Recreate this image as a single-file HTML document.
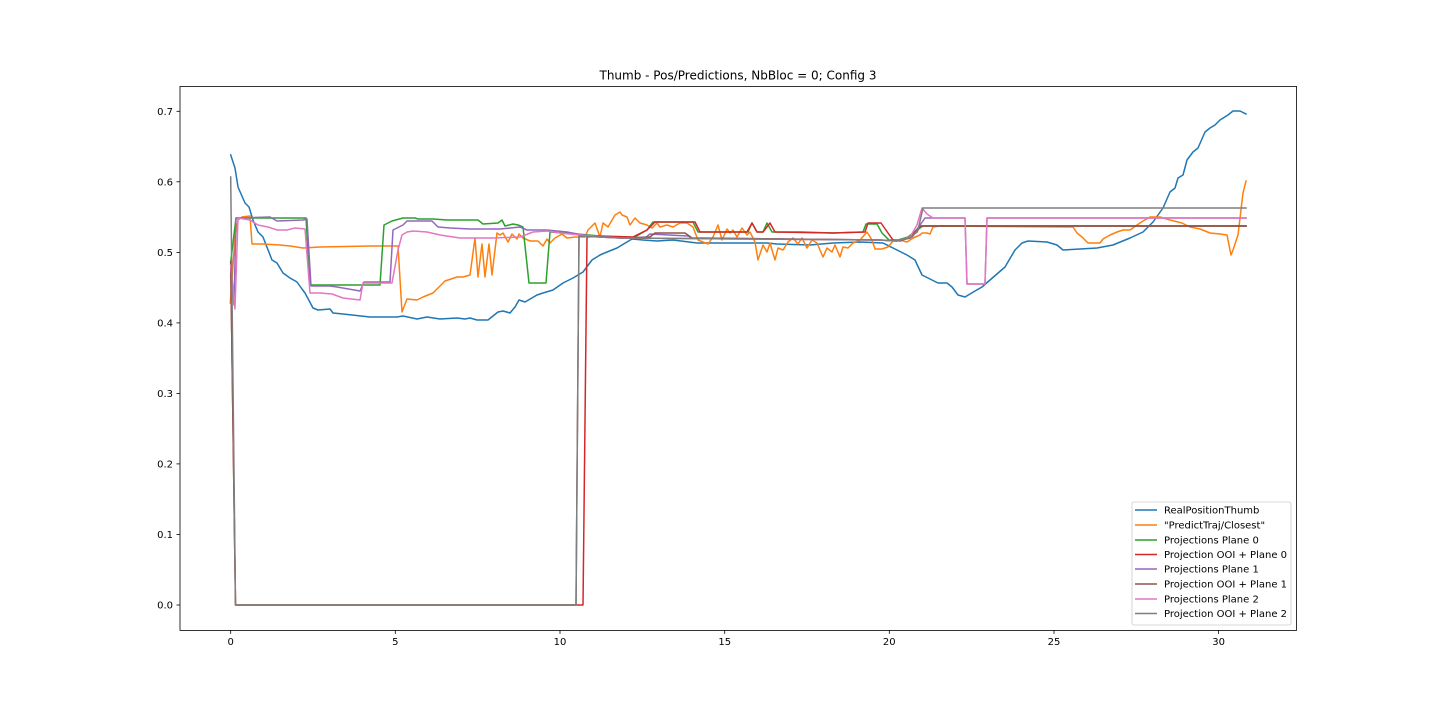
<!DOCTYPE html>
<html>
<head>
<meta charset="utf-8">
<style>
html,body{margin:0;padding:0;background:#fff;}
svg{display:block;}
text{font-family:"DejaVu Sans","Liberation Sans",sans-serif;fill:#000;}
</style>
</head>
<body>
<svg width="1440" height="720" viewBox="0 0 1440 720" xmlns="http://www.w3.org/2000/svg">
<rect x="0" y="0" width="1440" height="720" fill="#fff"/>
<defs>
<clipPath id="ax"><rect x="180" y="86.4" width="1116.5" height="544"/></clipPath>
</defs>
<text x="738" y="79.5" font-size="12" text-anchor="middle">Thumb - Pos/Predictions, NbBloc = 0; Config 3</text>

<g clip-path="url(#ax)" fill="none" stroke-width="1.5" stroke-linejoin="round" stroke-linecap="square">
<polyline stroke="#1f77b4" points="230.7,155 235,168 238,187 245,203 249,207 253,220 258,232 263,237 272,260 277,263 283,273 290,278 297,282 302,289 305,293 313,308 318,310 330,309 333,313 343,314 370,317 397,317 403,316 417,319 427,317 440,319 457,318 465,319 470,318 477,320 488,320 493,316 498,312 503,311 510,313 515,307 519,300 525,302 537,295 543,293 553,290 563,283 573,278 583,272 592,260 600,255 607,252 617,248 627,242 632,239 643,240 657,241 673,240 697,243 733,243 767,243 777,244 810,245 833,243 860,242 883,243 893,248 907,255 915,260 922,275 930,279 938,283 947,283 952,287 958,295 965,297 975,291 982,287 990,280 1005,267 1015,250 1022,243 1028,241 1047,242 1057,245 1063,250 1080,249 1097,248 1113,245 1130,238 1143,232 1153,222 1163,208 1170,192 1175,188 1178,178 1183,175 1187,160 1193,152 1198,148 1205,132 1210,128 1215,125 1220,120 1228,115 1233,111 1240,111 1246,114"/>
<polyline stroke="#ff7f0e" points="230.3,303 235,237 238,220 242,217 250,216 252,244 263,244 280,245 290,246 303,248 320,247 370,246 398,246 402,312 407,299 417,300 423,297 433,293 445,281 457,277 463,277 470,275 475,238 478,277 482,244 485,277 489,244 492,275 497,233 500,235 503,233 508,242 512,234 517,239 519,234 523,238 530,241 538,241 543,246 547,239 550,243 555,238 562,234 567,238 575,237 585,237 588,230 595,223 600,237 603,223 608,227 615,215 620,212 622,215 627,217 630,225 635,218 640,223 647,225 652,228 657,223 660,227 667,225 673,227 680,223 687,223 693,227 698,240 703,242 708,244 713,237 718,225 722,240 727,229 730,233 733,230 737,237 742,228 747,235 750,232 755,242 758,260 763,245 767,252 770,243 775,260 778,248 783,250 788,242 793,238 798,244 802,238 807,248 812,240 817,243 823,257 827,248 832,252 835,245 840,257 843,247 848,248 853,243 860,240 867,232 872,240 875,249 882,249 888,247 893,241 900,240 907,242 913,238 920,235 922,233 927,233 930,234 933,227 940,226 1073,227 1077,233 1082,237 1088,243 1100,243 1103,239 1110,235 1117,232 1123,230 1130,230 1137,225 1143,221 1150,217 1160,217 1170,220 1182,223 1190,227 1200,229 1210,233 1220,234 1227,235 1231,255 1233,250 1238,235 1243,193 1246,181"/>
<polyline stroke="#2ca02c" points="230.7,262 236,218 306,218 310,285 380,285 384,225 392,221 403,218 415,218 418,219 433,219 447,220 463,220 478,220 483,224 498,223 502,220 505,226 513,224 518,225 523,227 529,283 546,283 550,232 577,234 600,236 633,238 647,230 653,222 693,222 698,232 748,232 752,223 757,232 763,232 767,223 772,232 800,232 833,233 863,232 866,224 877,224 882,233 889,240 898,240 908,237 917,230 923,226 1246,226"/>
<polyline stroke="#d62728" points="230.7,262 235.5,605 583,605 587,237 600,236 633,237 647,230 655,222 695,222 700,232 747,232 752,223 757,232 763,232 770,223 775,232 833,233 865,232 868,223 881,223 888,233 893,240 900,241 910,237 917,232 920,226 1246,226"/>
<polyline stroke="#9467bd" points="230.7,265 234,305 236,218 270,217 277,221 303,220 307,219 311,286 330,286 337,287 360,291 364,282 390,282 393,230 403,225 407,221 432,221 438,227 450,228 470,229 500,229 520,227 527,230 547,230 567,232 583,235 620,238 645,238 650,234 688,236 692,238 880,240 897,241 910,238 918,228 925,218 965,218 967,284 985,284 987,218 1246,218"/>
<polyline stroke="#8c564b" points="230.7,262 235.5,605 576,605 579,236 600,237 620,238 650,237 655,233 685,233 692,238 880,240 897,241 910,238 920,226 1246,226"/>
<polyline stroke="#e377c2" points="230.7,265 235,309 238,218 250,220 258,225 268,227 277,230 287,230 295,228 305,229 310,293 320,293 332,294 343,298 360,300 363,283 392,283 398,250 402,235 407,232 413,231 427,232 440,235 460,238 493,238 520,237 533,232 547,231 560,233 580,235 600,237 620,238 880,240 897,241 910,237 917,225 922,208 927,214 933,218 965,218 967,284 985,284 987,218 1246,218"/>
<polyline stroke="#7f7f7f" points="230.7,177 235.5,605 576,605 579,236 600,237 620,238 880,240 897,241 912,237 918,230 923,208 1246,208"/>
</g>

<!-- axes frame -->
<rect x="180" y="86.4" width="1116.5" height="544" fill="none" stroke="#000" stroke-width="0.8"/>

<!-- y ticks -->
<g stroke="#000" stroke-width="0.8">
<line x1="176.5" y1="605" x2="180" y2="605"/>
<line x1="176.5" y1="534.5" x2="180" y2="534.5"/>
<line x1="176.5" y1="463.9" x2="180" y2="463.9"/>
<line x1="176.5" y1="393.4" x2="180" y2="393.4"/>
<line x1="176.5" y1="322.9" x2="180" y2="322.9"/>
<line x1="176.5" y1="252.4" x2="180" y2="252.4"/>
<line x1="176.5" y1="181.8" x2="180" y2="181.8"/>
<line x1="176.5" y1="111.3" x2="180" y2="111.3"/>
</g>
<g font-size="10" text-anchor="end">
<text x="173" y="608.6">0.0</text>
<text x="173" y="538.1">0.1</text>
<text x="173" y="467.5">0.2</text>
<text x="173" y="397">0.3</text>
<text x="173" y="326.5">0.4</text>
<text x="173" y="256">0.5</text>
<text x="173" y="185.4">0.6</text>
<text x="173" y="114.9">0.7</text>
</g>

<!-- x ticks -->
<g stroke="#000" stroke-width="0.8">
<line x1="230.7" y1="630.4" x2="230.7" y2="633.9"/>
<line x1="395.3" y1="630.4" x2="395.3" y2="633.9"/>
<line x1="560" y1="630.4" x2="560" y2="633.9"/>
<line x1="724.7" y1="630.4" x2="724.7" y2="633.9"/>
<line x1="889.3" y1="630.4" x2="889.3" y2="633.9"/>
<line x1="1054" y1="630.4" x2="1054" y2="633.9"/>
<line x1="1218.6" y1="630.4" x2="1218.6" y2="633.9"/>
</g>
<g font-size="10" text-anchor="middle">
<text x="230.7" y="645">0</text>
<text x="395.3" y="645">5</text>
<text x="560" y="645">10</text>
<text x="724.7" y="645">15</text>
<text x="889.3" y="645">20</text>
<text x="1054" y="645">25</text>
<text x="1218.6" y="645">30</text>
</g>

<!-- legend -->
<rect x="1132" y="502" width="159" height="123" rx="2" ry="2" fill="#fff" fill-opacity="0.8" stroke="#cccccc" stroke-width="0.8"/>
<g stroke-width="1.5">
<line x1="1135" y1="510" x2="1157" y2="510" stroke="#1f77b4"/>
<line x1="1135" y1="525" x2="1157" y2="525" stroke="#ff7f0e"/>
<line x1="1135" y1="540" x2="1157" y2="540" stroke="#2ca02c"/>
<line x1="1135" y1="554.5" x2="1157" y2="554.5" stroke="#d62728"/>
<line x1="1135" y1="569" x2="1157" y2="569" stroke="#9467bd"/>
<line x1="1135" y1="584" x2="1157" y2="584" stroke="#8c564b"/>
<line x1="1135" y1="599" x2="1157" y2="599" stroke="#e377c2"/>
<line x1="1135" y1="613.5" x2="1157" y2="613.5" stroke="#7f7f7f"/>
</g>
<g font-size="10">
<text x="1164" y="513.6">RealPositionThumb</text>
<text x="1164" y="528.6">"PredictTraj/Closest"</text>
<text x="1164" y="543.6">Projections Plane 0</text>
<text x="1164" y="558.1">Projection OOI + Plane 0</text>
<text x="1164" y="572.6">Projections Plane 1</text>
<text x="1164" y="587.6">Projection OOI + Plane 1</text>
<text x="1164" y="602.6">Projections Plane 2</text>
<text x="1164" y="617.1">Projection OOI + Plane 2</text>
</g>
</svg>
</body>
</html>
